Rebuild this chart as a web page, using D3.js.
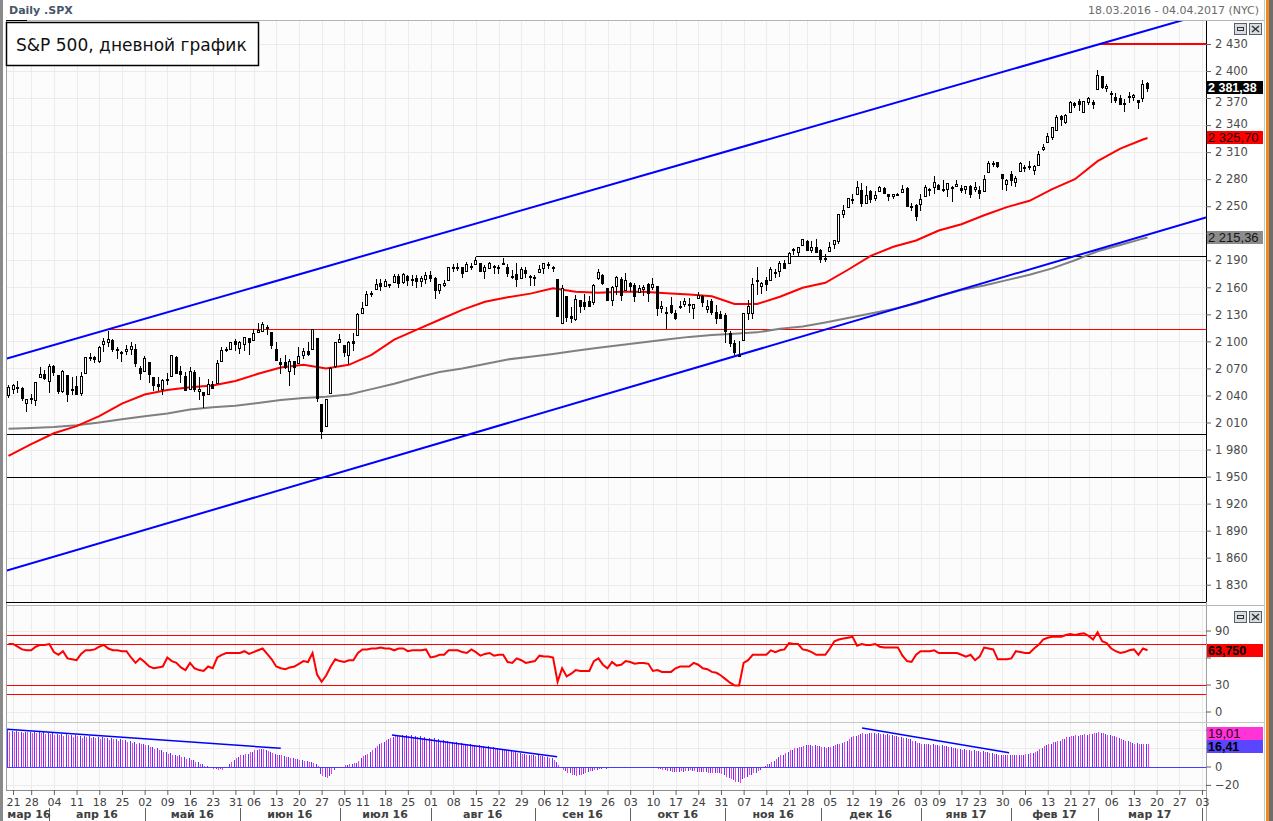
<!DOCTYPE html>
<html>
<head>
<meta charset="utf-8">
<script src="https://cdn.jsdelivr.net/npm/d3@7"></script>
<style>
body { margin: 0; background: #fff; }
svg { display: block; font-family: "DejaVu Sans", sans-serif; }
</style>
</head>
<body>
<svg id="chart" width="1273" height="821"></svg>
<script>
// trading days shown on the time axis (data ends 16.03.2017, axis runs to 04.04.2017)
var tradingDays = [
    ["2016-03", [18, 21, 22, 23, 24, 28, 29, 30, 31]],
    ["2016-04", [1, 4, 5, 6, 7, 8, 11, 12, 13, 14, 15, 18, 19, 20, 21, 22, 25, 26, 27, 28, 29]],
    ["2016-05", [2, 3, 4, 5, 6, 9, 10, 11, 12, 13, 16, 17, 18, 19, 20, 23, 24, 25, 26, 27, 31]],
    ["2016-06", [1, 2, 3, 6, 7, 8, 9, 10, 13, 14, 15, 16, 17, 20, 21, 22, 23, 24, 27, 28, 29, 30]],
    ["2016-07", [1, 5, 6, 7, 8, 11, 12, 13, 14, 15, 18, 19, 20, 21, 22, 25, 26, 27, 28, 29]],
    ["2016-08", [1, 2, 3, 4, 5, 8, 9, 10, 11, 12, 15, 16, 17, 18, 19, 22, 23, 24, 25, 26, 29, 30, 31]],
    ["2016-09", [1, 2, 6, 7, 8, 9, 12, 13, 14, 15, 16, 19, 20, 21, 22, 23, 26, 27, 28, 29, 30]],
    ["2016-10", [3, 4, 5, 6, 7, 10, 11, 12, 13, 14, 17, 18, 19, 20, 21, 24, 25, 26, 27, 28, 31]],
    ["2016-11", [1, 2, 3, 4, 7, 8, 9, 10, 11, 14, 15, 16, 17, 18, 21, 22, 23, 25, 28, 29, 30]],
    ["2016-12", [1, 2, 5, 6, 7, 8, 9, 12, 13, 14, 15, 16, 19, 20, 21, 22, 23, 26, 27, 28, 29, 30]],
    ["2017-01", [3, 4, 5, 6, 9, 10, 11, 12, 13, 17, 18, 19, 20, 23, 24, 25, 26, 27, 30, 31]],
    ["2017-02", [1, 2, 3, 6, 7, 8, 9, 10, 13, 14, 15, 16, 17, 21, 22, 23, 24, 27, 28]],
    ["2017-03", [1, 2, 3, 6, 7, 8, 9, 10, 13, 14, 15, 16, 17, 20, 21, 22, 23, 24, 27, 28, 29, 30, 31]],
    ["2017-04", [3, 4]]
];

var monthNames = ["янв", "фев", "мар", "апр", "май", "июн", "июл", "авг", "сен", "окт", "ноя", "дек"];

// daily candles [open, high, low, close]
var candles = [
    // mar 16
    [2041, 2052, 2037, 2049.6], [2047, 2053, 2042, 2051.6], [2048, 2056, 2043, 2049.8], [2048, 2049, 2034, 2036.7],
    [2032, 2036, 2022, 2035.9], [2037, 2042, 2031, 2037.1], [2035, 2055, 2028, 2055.0], [2060, 2072, 2059, 2064.0],
    [2064, 2068, 2057, 2059.7],
    // apr 16
    [2056, 2075, 2043, 2072.8], [2073, 2074, 2062, 2066.1], [2063, 2063, 2042, 2045.2], [2045, 2068, 2043, 2066.7],
    [2063, 2063, 2033, 2041.9], [2046, 2060, 2041, 2047.6], [2050, 2062, 2041, 2042.0], [2043, 2066, 2039, 2061.7],
    [2065, 2083, 2065, 2082.4], [2082, 2087, 2078, 2082.8], [2083, 2084, 2076, 2080.7], [2078, 2095, 2076, 2094.3],
    [2097, 2104, 2088, 2100.8], [2099, 2111, 2094, 2102.4], [2102, 2103, 2088, 2091.5], [2090, 2094, 2081, 2091.6],
    [2088, 2089, 2077, 2087.8], [2089, 2096, 2085, 2091.7], [2092, 2099, 2085, 2095.2], [2091, 2097, 2072, 2075.8],
    [2071, 2073, 2057, 2065.3],
    // may 16
    [2067, 2084, 2066, 2081.4], [2077, 2077, 2054, 2063.4], [2060, 2060, 2045, 2051.1], [2053, 2060, 2045, 2050.6],
    [2047, 2058, 2040, 2057.1], [2057, 2065, 2052, 2058.7], [2062, 2084, 2062, 2084.4], [2083, 2084, 2064, 2064.5],
    [2067, 2073, 2054, 2064.1], [2062, 2066, 2045, 2046.6], [2047, 2072, 2047, 2066.7], [2066, 2068, 2044, 2047.2],
    [2045, 2061, 2035, 2047.6], [2044, 2044, 2026, 2040.0], [2042, 2058, 2042, 2052.3], [2053, 2056, 2048, 2048.0],
    [2054, 2079, 2054, 2076.1], [2078, 2094, 2078, 2090.5], [2091, 2094, 2088, 2090.1], [2091, 2099, 2090, 2099.1],
    [2100, 2103, 2089, 2097.0],
    // jun 16
    [2093, 2100, 2086, 2099.3], [2097, 2105, 2089, 2105.3], [2104, 2104, 2085, 2099.1], [2101, 2114, 2100, 2109.4],
    [2110, 2120, 2110, 2112.1], [2112, 2121, 2111, 2119.1], [2115, 2118, 2107, 2115.5], [2110, 2110, 2092, 2096.1],
    [2091, 2099, 2078, 2079.1], [2077, 2082, 2064, 2075.3], [2077, 2085, 2069, 2071.5], [2067, 2080, 2051, 2078.0],
    [2078, 2078, 2063, 2071.2], [2076, 2094, 2076, 2083.3], [2085, 2093, 2080, 2088.9], [2089, 2099, 2084, 2085.5],
    [2092, 2113, 2091, 2113.3], [2104, 2104, 2033, 2037.4], [2031, 2031, 1992, 2000.5], [2006, 2036, 2006, 2036.1],
    [2043, 2072, 2043, 2070.8], [2073, 2099, 2071, 2098.9],
    // jul 16
    [2099, 2108, 2098, 2103.0], [2096, 2096, 2083, 2088.6], [2085, 2100, 2075, 2099.7], [2100, 2109, 2089, 2097.9],
    [2107, 2131, 2107, 2129.9], [2132, 2144, 2132, 2137.2], [2140, 2156, 2140, 2152.1], [2154, 2156, 2149, 2152.4],
    [2158, 2169, 2158, 2163.8], [2165, 2169, 2156, 2161.7], [2162, 2169, 2160, 2166.9], [2163, 2164, 2159, 2163.8],
    [2166, 2175, 2166, 2173.0], [2173, 2175, 2159, 2165.2], [2166, 2176, 2164, 2175.0], [2173, 2174, 2162, 2168.5],
    [2169, 2174, 2162, 2169.2], [2170, 2174, 2159, 2166.6], [2167, 2173, 2160, 2170.1], [2169, 2177, 2164, 2173.6],
    // aug 16
    [2174, 2178, 2166, 2170.8], [2170, 2171, 2147, 2157.0], [2157, 2164, 2153, 2163.8], [2163, 2168, 2160, 2164.3],
    [2168, 2183, 2168, 2182.9], [2183, 2186, 2177, 2180.9], [2182, 2187, 2178, 2181.7], [2182, 2183, 2170, 2175.5],
    [2178, 2188, 2178, 2185.8], [2184, 2187, 2179, 2184.1], [2186, 2194, 2186, 2190.2], [2187, 2187, 2178, 2178.2],
    [2178, 2185, 2169, 2182.2], [2181, 2188, 2181, 2187.0], [2184, 2185, 2175, 2183.9], [2181, 2185, 2175, 2182.6],
    [2187, 2193, 2185, 2186.9], [2183, 2186, 2171, 2175.4], [2173, 2179, 2169, 2172.5], [2175, 2187, 2160, 2169.0],
    [2170, 2183, 2170, 2180.4], [2179, 2183, 2170, 2176.1], [2173, 2174, 2162, 2171.0],
    // sep 16
    [2171, 2174, 2161, 2170.9], [2177, 2185, 2176, 2180.0], [2181, 2187, 2175, 2186.5], [2186, 2188, 2180, 2186.2],
    [2182, 2184, 2177, 2181.3], [2169, 2169, 2127, 2127.8], [2120, 2163, 2119, 2159.0], [2150, 2150, 2121, 2127.0],
    [2128, 2138, 2120, 2125.8], [2125, 2151, 2123, 2147.3], [2146, 2146, 2131, 2139.2], [2144, 2153, 2135, 2139.1],
    [2145, 2150, 2138, 2139.8], [2144, 2164, 2140, 2163.1], [2170, 2180, 2168, 2177.2], [2174, 2175, 2163, 2164.7],
    [2159, 2159, 2145, 2146.1], [2146, 2161, 2139, 2159.9], [2161, 2173, 2152, 2171.4], [2169, 2172, 2145, 2151.1],
    [2157, 2176, 2157, 2168.3],
    // oct 16
    [2165, 2166, 2155, 2161.2], [2163, 2165, 2144, 2150.5], [2155, 2163, 2155, 2159.7], [2158, 2163, 2150, 2160.8],
    [2164, 2165, 2144, 2153.7], [2160, 2170, 2157, 2163.7], [2161, 2162, 2128, 2136.7], [2137, 2145, 2132, 2139.2],
    [2131, 2138, 2114, 2132.6], [2140, 2149, 2130, 2133.0], [2132, 2135, 2124, 2126.5], [2138, 2145, 2136, 2139.6],
    [2141, 2148, 2138, 2144.3], [2142, 2148, 2132, 2141.3], [2137, 2142, 2125, 2141.2], [2148, 2155, 2147, 2151.3],
    [2150, 2152, 2138, 2143.2], [2136, 2146, 2132, 2139.4], [2145, 2147, 2129, 2133.0], [2133, 2140, 2119, 2126.4],
    [2130, 2134, 2125, 2126.2],
    // nov 16
    [2129, 2131, 2098, 2111.7], [2109, 2112, 2094, 2097.9], [2098, 2102, 2085, 2088.7], [2084, 2100, 2084, 2085.2],
    [2101, 2132, 2101, 2131.5], [2132, 2146, 2124, 2139.6], [2132, 2170, 2125, 2163.3], [2168, 2182, 2151, 2167.5],
    [2162, 2166, 2153, 2164.5], [2168, 2172, 2156, 2164.2], [2168, 2182, 2168, 2180.4], [2177, 2180, 2170, 2176.9],
    [2178, 2189, 2172, 2187.1], [2187, 2190, 2180, 2181.9], [2187, 2199, 2187, 2198.2], [2202, 2204, 2196, 2202.9],
    [2199, 2205, 2195, 2204.7], [2207, 2214, 2206, 2213.4], [2211, 2212, 2201, 2201.7], [2201, 2211, 2198, 2204.7],
    [2205, 2214, 2198, 2198.8],
    // dec 16
    [2201, 2202, 2187, 2191.1], [2191, 2197, 2188, 2192.0], [2200, 2210, 2200, 2204.7], [2208, 2213, 2202, 2212.2],
    [2211, 2241, 2208, 2241.4], [2241, 2251, 2237, 2246.2], [2249, 2259, 2249, 2259.5], [2258, 2264, 2253, 2257.0],
    [2263, 2278, 2263, 2271.7], [2268, 2276, 2249, 2253.3], [2254, 2272, 2254, 2262.0], [2267, 2268, 2254, 2258.1],
    [2259, 2267, 2256, 2262.5], [2267, 2272, 2266, 2270.8], [2270, 2271, 2265, 2265.2], [2263, 2264, 2256, 2261.0],
    [2261, 2264, 2258, 2263.8], [2264, 2265, 2263, 2264.0], [2266, 2273, 2266, 2268.9], [2270, 2271, 2249, 2249.9],
    [2250, 2254, 2245, 2249.3], [2251, 2253, 2234, 2238.8],
    // jan 17
    [2252, 2263, 2245, 2257.8], [2261, 2273, 2261, 2270.8], [2268, 2270, 2261, 2269.0], [2271, 2283, 2264, 2277.0],
    [2274, 2275, 2268, 2268.9], [2269, 2279, 2266, 2268.9], [2269, 2276, 2260, 2275.3], [2271, 2272, 2255, 2270.4],
    [2272, 2279, 2272, 2274.6], [2270, 2273, 2265, 2267.9], [2269, 2272, 2264, 2271.9], [2272, 2274, 2259, 2263.7],
    [2269, 2277, 2266, 2271.3], [2268, 2272, 2258, 2265.2], [2267, 2285, 2267, 2280.1], [2288, 2300, 2288, 2298.4],
    [2298, 2300, 2294, 2296.7], [2299, 2299, 2292, 2294.7], [2286, 2286, 2268, 2280.9], [2275, 2280, 2267, 2278.9],
    // feb 17
    [2286, 2289, 2272, 2279.6], [2277, 2283, 2271, 2280.9], [2289, 2299, 2288, 2297.4], [2294, 2296, 2288, 2292.6],
    [2295, 2300, 2290, 2293.1], [2290, 2296, 2285, 2294.7], [2296, 2311, 2296, 2307.9], [2313, 2319, 2311, 2316.1],
    [2321, 2331, 2321, 2328.3], [2327, 2338, 2324, 2337.6], [2335, 2351, 2334, 2349.3], [2350, 2351, 2339, 2347.2],
    [2343, 2352, 2341, 2351.2], [2355, 2367, 2355, 2365.4], [2364, 2366, 2359, 2362.8], [2367, 2369, 2356, 2363.8],
    [2355, 2367, 2353, 2367.3], [2366, 2371, 2362, 2369.8], [2366, 2368, 2358, 2363.6],
    // mar 17
    [2380, 2401, 2380, 2396.0], [2395, 2395, 2380, 2381.9], [2381, 2386, 2377, 2383.1], [2375, 2378, 2365, 2375.3],
    [2371, 2376, 2364, 2368.4], [2370, 2373, 2362, 2363.0], [2363, 2369, 2354, 2364.9], [2372, 2377, 2364, 2372.6],
    [2371, 2375, 2367, 2373.5], [2368, 2368, 2358, 2365.5], [2370, 2390, 2366, 2385.3], [2387, 2388, 2377, 2381.38]
];

// moving averages, [bar index, value]
var ma50 = [
    [0, 1973], [5, 1986], [10, 1998], [15, 2006], [20, 2017], [25, 2031], [30, 2041], [35, 2046], [40, 2049],
    [45, 2051], [50, 2056], [55, 2064], [60, 2071], [65, 2074], [70, 2070], [75, 2074], [80, 2085], [85, 2102],
    [90, 2113], [95, 2124], [100, 2135], [105, 2144], [110, 2149], [115, 2153], [120, 2159], [125, 2155],
    [130, 2154], [135, 2155], [140, 2155], [145, 2153.5], [150, 2152], [155, 2150], [160, 2141.5], [165, 2141.5],
    [170, 2149.6], [175, 2159.5], [180, 2165], [185, 2179.5], [190, 2195], [195, 2205], [200, 2212], [205, 2223],
    [210, 2230], [215, 2240], [220, 2249], [225, 2256], [230, 2269], [235, 2280], [240, 2300], [245, 2314],
    [250, 2324], [251, 2325.70]
];
var ma200 = [
    [0, 2003], [5, 2004], [10, 2005], [15, 2007], [20, 2010], [25, 2013.5], [30, 2017], [35, 2020], [40, 2024.5],
    [45, 2027], [50, 2028.5], [55, 2031.5], [60, 2035], [65, 2037.3], [70, 2038.5], [75, 2041], [80, 2047],
    [85, 2053], [90, 2060], [95, 2066], [100, 2070], [105, 2075], [110, 2080], [115, 2083], [120, 2086],
    [125, 2089.5], [130, 2093], [135, 2096], [140, 2099], [145, 2102], [150, 2105], [155, 2107], [160, 2108.5],
    [165, 2110], [170, 2114], [175, 2116.5], [180, 2121], [185, 2126], [190, 2131], [195, 2136], [200, 2142],
    [205, 2150], [210, 2157], [215, 2162], [220, 2168], [225, 2174], [230, 2181], [235, 2190], [240, 2200],
    [245, 2207], [250, 2214], [251, 2215.36]
];

// daily RSI values
var rsi = [
    75, 75, 72, 69, 68, 68, 72, 74, 74, 75, 66, 63, 67, 59, 58, 57, 64, 68, 68, 69,
    72, 74, 70, 68, 68, 67, 67, 60, 54, 59, 55, 50, 48, 49, 50, 60, 56, 54, 49, 46,
    54, 48, 46, 45, 50, 48, 60, 63, 65, 65, 65, 65, 67, 64, 66, 68, 70, 64, 58, 50,
    48, 47, 49, 50, 53, 56, 55, 65, 41, 33, 40, 50, 58, 56, 55, 57, 57, 65, 69, 69,
    70, 70, 71, 70, 70, 68, 70, 70, 67, 68, 68, 68, 69, 60, 61, 63, 63, 68, 68, 68,
    66, 65, 69, 66, 62, 64, 65, 62, 63, 63, 55, 54, 59, 57, 54, 55, 56, 62, 61, 61,
    60, 33, 48, 39, 42, 46, 45, 45, 45, 56, 59, 52, 48, 55, 51, 52, 56, 55, 53, 54,
    54, 53, 45, 46, 44, 44, 44, 48, 50, 50, 50, 54, 52, 48, 47, 44, 43, 40, 36, 32,
    29, 29, 54, 57, 63, 63, 63, 63, 68, 66, 68, 69, 76, 75, 75, 69, 68, 66, 63, 63,
    63, 70, 78, 80, 81, 82, 83, 73, 75, 74, 74, 75, 72, 71, 71, 71, 71, 62, 56, 55,
    63, 67, 67, 67, 68, 65, 65, 65, 65, 65, 63, 61, 63, 57, 61, 71, 70, 69, 58, 58,
    58, 59, 67, 66, 65, 65, 70, 74, 80, 82, 83, 83, 83, 85, 86, 85, 86, 87, 84, 80,
    88, 78, 76, 70, 67, 65, 66, 68, 69, 63, 70, 68
];
var rsiLevels = [85, 75, 30, 20];
var rsiTicks = [0, 30, 60, 90];

// MACD histogram, two series (blue / magenta)
var macdBlue = [
    40, 39, 39, 38, 38, 38, 37, 37, 37, 36, 36, 35, 35, 35, 34, 34, 33, 33, 33, 32,
    32, 32, 31, 31, 30, 30, 29, 28, 27, 26, 25, 23, 21, 20, 18, 16, 15, 13, 12, 10,
    9, 7, 5, 3, 1, -2, -3, -3, -1, 3, 7, 10, 12, 14, 16, 18, 19, 18, 16, 14,
    13, 11, 10, 9, 8, 7, 6, 5, 3, -8, -11, -10, -4, -2, 0, 2, 3, 4, 9, 12,
    16, 20, 24, 27, 30, 32, 33, 34, 34, 34, 33, 33, 32, 31, 31, 30, 29, 28, 27, 27,
    26, 25, 24, 23, 23, 22, 22, 21, 20, 19, 18, 17, 16, 15, 14, 13, 12, 12, 11, 10,
    9, 5, -2, -5, -7, -9, -9, -8, -6, -5, -4, -3, -3, -2, -2, -2, -1, -1, -1, -1,
    -1, -1, -1, -2, -3, -4, -5, -6, -6, -6, -5, -5, -6, -6, -6, -7, -7, -7, -9, -12,
    -15, -17, -14, -11, -9, -7, -4, 1, 3, 6, 10, 13, 16, 18, 20, 21, 23, 23, 23, 22,
    21, 21, 22, 24, 26, 28, 32, 33, 35, 35, 36, 36, 36, 35, 35, 34, 33, 32, 31, 30,
    28, 26, 25, 24, 24, 23, 23, 22, 21, 20, 19, 19, 18, 18, 17, 17, 16, 15, 14, 13,
    13, 13, 13, 13, 13, 14, 15, 17, 20, 23, 25, 27, 28, 30, 32, 33, 33, 34, 34, 35,
    36, 36, 35, 34, 33, 31, 29, 28, 26, 26, 25, 25
];
var macdPink = [
    38, 37, 38, 36, 37, 36, 36, 36, 35, 35, 34, 34, 33, 34, 32, 33, 31, 32, 31, 31,
    30, 31, 29, 30, 28, 29, 27, 26, 25, 24, 23, 21, 19, 18, 16, 14, 13, 11, 10, 8,
    7, 5, 3, 1, -1, -3, -4, -4, 0, 5, 9, 12, 14, 16, 18, 19, 19, 17, 15, 13,
    12, 10, 9, 8, 7, 6, 5, 4, 1, -10, -12, -8, -2, 0, 2, 3, 4, 6, 11, 14,
    18, 22, 26, 29, 31, 33, 33, 33, 33, 32, 32, 31, 30, 30, 29, 28, 28, 27, 26, 25,
    25, 24, 23, 22, 21, 21, 20, 20, 19, 18, 17, 16, 15, 14, 13, 12, 11, 11, 10, 9,
    7, 2, -4, -7, -9, -10, -9, -7, -5, -4, -3, -2, -2, -1, -1, -1, -1, 0, 0, -1,
    -1, 0, -2, -3, -4, -5, -6, -6, -5, -5, -4, -5, -6, -6, -7, -7, -7, -8, -11, -14,
    -17, -18, -12, -9, -7, -5, -2, 3, 5, 8, 12, 15, 18, 20, 21, 22, 23, 22, 22, 21,
    20, 21, 23, 25, 27, 30, 33, 34, 36, 35, 36, 35, 35, 34, 34, 33, 32, 31, 30, 28,
    26, 25, 24, 23, 23, 22, 22, 21, 20, 19, 18, 18, 17, 17, 16, 16, 15, 14, 13, 12,
    12, 12, 13, 13, 14, 15, 16, 19, 22, 25, 27, 28, 30, 32, 33, 34, 34, 35, 35, 36,
    37, 36, 34, 33, 32, 30, 28, 27, 25, 25, 24, 24
];
var macdTicks = [-20, 0, 20, 40];
var macdLabels = [19.01, 16.41];
var rsiLabel = 63.75;

// hand-drawn lines: [bar index, value]
var channelLines = [
    [[0, 2081.6], [240.5, 2430]],
    [[0, 1846.3], [263.9, 2237.5]]
];
var levelLines = [
    { price: 2194.8, from: 103, color: "#000000", width: 1 },
    { price: 2113.8, from: 22, color: "#ff0000", width: 1 },
    { price: 1997.2, from: null, color: "#000000", width: 1 },
    { price: 1949.5, from: null, color: "#000000", width: 1 },
    { price: 2430, from: 240.5, color: "#ff0000", width: 2 }
];
var macdTrends = [
    [[-0.3, 40.4], [60, 19.8]],
    [[84.5, 34.2], [120.9, 10.7]],
    [[188.1, 41.8], [220.5, 15]]
];
var priceTicks = d3.range(1830, 2431, 30);

// ---------------------------------------------------------------
var slots = [];
tradingDays.forEach(function (m) {
    var ym = m[0].split("-").map(Number);
    m[1].forEach(function (d) {
        slots.push({ y: ym[0], m: ym[1], d: d, date: new Date(ym[0], ym[1] - 1, d) });
    });
});

var weekIdx = [], monthIdx = [0];
slots.forEach(function (s, i) {
    if (i === 0) return;
    var gap = (s.date - slots[i - 1].date) / 86400000;
    if (gap >= 3) weekIdx.push(i);
    if (s.m !== slots[i - 1].m) monthIdx.push(i);
});

var ru = d3.formatLocale({ decimal: ",", thousands: "\u00a0", grouping: [3], currency: ["", ""] });
var fInt = ru.format(",d"), f2 = ru.format(",.2f"), f3 = ru.format(",.3f");

var svg = d3.select("#chart");
var plotL = 6, plotR = 1206;
var mainTop = 20.5, mainBot = 602, rsiTop = 605, rsiBot = 722, macdTop = 723, macdBot = 790;

var x = d3.scaleLinear().domain([0, slots.length - 1]).range([8.5, 1206.5]);
var yMain = d3.scaleLinear().domain([1830, 2430]).range([584.7, 44]);
var yRsi = d3.scaleLinear().domain([0, 90]).range([711.5, 630.5]);
var yMacd = d3.scaleLinear().domain([-20, 0]).range([784.9, 766.5]);

// frame
svg.append("rect").attr("x", 0).attr("y", 0).attr("width", 1273).attr("height", 821).attr("fill", "#ffffff");
svg.append("rect").attr("x", 0).attr("y", 0).attr("width", 3).attr("height", 821).attr("fill", "#8a8a8a");
svg.append("rect").attr("x", 1264).attr("y", 0).attr("width", 1).attr("height", 821).attr("fill", "#c8c8c8");
svg.append("rect").attr("x", 1266).attr("y", 0).attr("width", 3).attr("height", 821).attr("fill", "#f08a1c");
svg.append("rect").attr("x", 1269).attr("y", 0).attr("width", 4).attr("height", 821).attr("fill", "#6e6e6e");

var panels = [[mainTop, mainBot], [rsiTop, rsiBot], [macdTop, macdBot]];
var defs = svg.append("defs");
panels.forEach(function (p, k) {
    svg.append("rect").attr("x", plotL).attr("y", p[0]).attr("width", plotR - plotL).attr("height", p[1] - p[0])
        .attr("fill", "#fcfcfc");
    defs.append("clipPath").attr("id", "clip" + k).append("rect")
        .attr("x", plotL).attr("y", p[0]).attr("width", plotR - plotL).attr("height", p[1] - p[0]);
});

// gridlines
var grid = svg.append("g").attr("stroke", "#ececec").attr("shape-rendering", "crispEdges");
panels.forEach(function (p) {
    grid.selectAll(null).data(weekIdx).enter().append("line")
        .attr("x1", function (i) { return Math.round(x(i)) + 0.5; })
        .attr("x2", function (i) { return Math.round(x(i)) + 0.5; })
        .attr("y1", p[0]).attr("y2", p[1]);
});
grid.selectAll(null).data(priceTicks).enter().append("line")
    .attr("x1", plotL).attr("x2", plotR)
    .attr("y1", function (v) { return Math.round(yMain(v)) + 0.5; })
    .attr("y2", function (v) { return Math.round(yMain(v)) + 0.5; });
grid.selectAll(null).data(rsiTicks).enter().append("line")
    .attr("x1", plotL).attr("x2", plotR)
    .attr("y1", function (v) { return Math.round(yRsi(v)) + 0.5; })
    .attr("y2", function (v) { return Math.round(yRsi(v)) + 0.5; });
grid.selectAll(null).data(macdTicks).enter().append("line")
    .attr("x1", plotL).attr("x2", plotR)
    .attr("y1", function (v) { return Math.round(yMacd(v)) + 0.5; })
    .attr("y2", function (v) { return Math.round(yMacd(v)) + 0.5; });

// ---- main panel
var main = svg.append("g").attr("clip-path", "url(#clip0)");

main.selectAll(".level").data(levelLines).enter().append("line")
    .attr("x1", function (d) { return d.from === null ? plotL : x(d.from); })
    .attr("x2", plotR)
    .attr("y1", function (d) { return Math.round(yMain(d.price)) + (d.width === 1 ? 0.5 : 0); })
    .attr("y2", function (d) { return Math.round(yMain(d.price)) + (d.width === 1 ? 0.5 : 0); })
    .attr("stroke", function (d) { return d.color; })
    .attr("stroke-width", function (d) { return d.width; })
    .attr("shape-rendering", "crispEdges");

var maLine = d3.line().x(function (d) { return x(d[0]); }).y(function (d) { return yMain(d[1]); });
main.append("path").attr("d", maLine(ma200)).attr("fill", "none").attr("stroke", "#808080").attr("stroke-width", 2);
main.append("path").attr("d", maLine(ma50)).attr("fill", "none").attr("stroke", "#ff0000").attr("stroke-width", 2);

channelLines.forEach(function (l) {
    var x1 = x(l[0][0]), y1 = yMain(l[0][1]), x2 = x(l[1][0]), y2 = yMain(l[1][1]);
    var k = (y2 - y1) / (x2 - x1);
    main.append("line")
        .attr("x1", plotL).attr("y1", y1 + (plotL - x1) * k)
        .attr("x2", plotR).attr("y2", y1 + (plotR - x1) * k)
        .attr("stroke", "#0000ff").attr("stroke-width", 2);
});

var candle = main.selectAll(".candle").data(candles).enter().append("g")
    .attr("shape-rendering", "crispEdges");
candle.append("line")
    .attr("x1", function (d, i) { return Math.floor(x(i)) + 0.5; })
    .attr("x2", function (d, i) { return Math.floor(x(i)) + 0.5; })
    .attr("y1", function (d) { return Math.round(yMain(d[1])); })
    .attr("y2", function (d) { return Math.round(yMain(d[2])); })
    .attr("stroke", "#000");
candle.append("rect")
    .attr("x", function (d, i) { return Math.floor(x(i)) - 0.5; })
    .attr("width", 2)
    .attr("y", function (d) { return Math.round(yMain(Math.max(d[0], d[3]))) + 0.5; })
    .attr("height", function (d) {
        return Math.max(1, Math.round(yMain(Math.min(d[0], d[3]))) - Math.round(yMain(Math.max(d[0], d[3]))));
    })
    .attr("fill", function (d) { return d[3] >= d[0] ? "#ffffff" : "#000000"; })
    .attr("stroke", "#000");

// ---- RSI panel
var rsiG = svg.append("g").attr("clip-path", "url(#clip1)");
rsiG.selectAll(null).data(rsiLevels).enter().append("line")
    .attr("x1", plotL).attr("x2", plotR)
    .attr("y1", function (v) { return Math.round(yRsi(v)) + 0.5; })
    .attr("y2", function (v) { return Math.round(yRsi(v)) + 0.5; })
    .attr("stroke", "#ff0000").attr("shape-rendering", "crispEdges");
rsiG.append("path")
    .attr("d", d3.line().x(function (d, i) { return x(i); }).y(function (d) { return yRsi(d); })(rsi))
    .attr("fill", "none").attr("stroke", "#ff0000").attr("stroke-width", 2);

// ---- MACD panel
var macdG = svg.append("g").attr("clip-path", "url(#clip2)").attr("shape-rendering", "crispEdges");
macdG.selectAll(".mb").data(macdBlue).enter().append("line")
    .attr("x1", function (d, i) { return Math.floor(x(i)) - 0.5; })
    .attr("x2", function (d, i) { return Math.floor(x(i)) - 0.5; })
    .attr("y1", yMacd(0)).attr("y2", function (d) { return yMacd(d); })
    .attr("stroke", "#4a3cff");
macdG.selectAll(".mp").data(macdPink).enter().append("line")
    .attr("x1", function (d, i) { return Math.floor(x(i)) + 1.5; })
    .attr("x2", function (d, i) { return Math.floor(x(i)) + 1.5; })
    .attr("y1", yMacd(0)).attr("y2", function (d) { return yMacd(d); })
    .attr("stroke", "#ff33d6");
macdG.append("line").attr("x1", plotL).attr("x2", plotR)
    .attr("y1", Math.round(yMacd(0)) + 0.5).attr("y2", Math.round(yMacd(0)) + 0.5)
    .attr("stroke", "#4a3cff");
macdTrends.forEach(function (l) {
    macdG.append("line")
        .attr("x1", x(l[0][0])).attr("y1", yMacd(l[0][1]))
        .attr("x2", x(l[1][0])).attr("y2", yMacd(l[1][1]))
        .attr("stroke", "#0000ff").attr("stroke-width", 1.5).attr("shape-rendering", "auto");
});

// ---- borders
var border = svg.append("g").attr("fill", "none").attr("shape-rendering", "crispEdges");
border.append("line").attr("x1", plotL + 0.5).attr("x2", plotL + 0.5).attr("y1", mainTop).attr("y2", macdBot).attr("stroke", "#a0a0a0");
border.append("line").attr("x1", plotR + 0.5).attr("x2", plotR + 0.5).attr("y1", mainTop).attr("y2", mainBot).attr("stroke", "#000");
border.append("line").attr("x1", plotR + 0.5).attr("x2", plotR + 0.5).attr("y1", mainBot).attr("y2", 821).attr("stroke", "#a0a0a0");
border.append("line").attr("x1", plotL).attr("x2", 1264).attr("y1", mainTop).attr("y2", mainTop).attr("stroke", "#b4b4b4");
border.append("line").attr("x1", plotL).attr("x2", 27).attr("y1", mainTop).attr("y2", mainTop).attr("stroke", "#000");
border.append("line").attr("x1", plotL).attr("x2", plotR).attr("y1", mainBot + 0.5).attr("y2", mainBot + 0.5).attr("stroke", "#000");
border.append("line").attr("x1", plotL).attr("x2", 1264).attr("y1", rsiTop + 0.5).attr("y2", rsiTop + 0.5).attr("stroke", "#b4b4b4");
border.append("line").attr("x1", plotL).attr("x2", 1264).attr("y1", rsiBot + 0.5).attr("y2", rsiBot + 0.5).attr("stroke", "#c8c8c8");
border.append("line").attr("x1", plotL).attr("x2", plotR).attr("y1", macdBot + 0.5).attr("y2", macdBot + 0.5).attr("stroke", "#8c8c8c");

// ---- value boxes on the right axis
var lastIdx = candles.length - 1;
var boxes = [
    { y: yMain(candles[lastIdx][3]), text: f2(candles[lastIdx][3]), bg: "#000000", fg: "#ffffff", bold: true },
    { y: yMain(ma50[ma50.length - 1][1]), text: f2(ma50[ma50.length - 1][1]), bg: "#ff0000", fg: "#1a0000" },
    { y: yMain(ma200[ma200.length - 1][1]), text: f2(ma200[ma200.length - 1][1]), bg: "#8c8c8c", fg: "#141414" },
    { y: yRsi(rsi[rsi.length - 1]), text: f3(rsiLabel), bg: "#ff0000", fg: "#000000", bold: true },
    { y: 733.5, text: f2(macdLabels[0]), bg: "#ff33d6", fg: "#2a0024" },
    { y: 746.5, text: f2(macdLabels[1]), bg: "#5a46ff", fg: "#000000", bold: true }
];
function nearestBox(y) {
    var best = null;
    boxes.forEach(function (b) {
        if (best === null || Math.abs(b.y - y) < Math.abs(best)) best = y - b.y;
    });
    return best;
}

// ---- right axes
function rightAxis(scale, ticks, fmt) {
    var g = svg.append("g").attr("transform", "translate(" + plotR + ",0)")
        .call(d3.axisRight(scale).tickValues(ticks).tickSize(5).tickPadding(4).tickFormat(fmt));
    g.select(".domain").remove();
    g.selectAll(".tick line").attr("stroke", "#606060");
    var t = g.selectAll(".tick text").attr("fill", "#4a4a4a").style("font-size", "11.5px")
        .style("font-family", "'DejaVu Sans', sans-serif");
    t.filter(function (v) { return Math.abs(nearestBox(scale(v))) < 8; }).remove();
    t.each(function (v) {
        var d = nearestBox(scale(v));
        if (Math.abs(d) >= 8 && Math.abs(d) < 14) {
            d3.select(this).attr("transform", "translate(0," + (Math.sign(d) * (14 - Math.abs(d))).toFixed(1) + ")");
        }
    });
    return g;
}
rightAxis(yMain, priceTicks, fInt);
rightAxis(yRsi, rsiTicks, d3.format("d"));
rightAxis(yMacd, macdTicks, d3.format("d"));

boxes.forEach(function (b) {
    var top = Math.round(b.y - 6.5);
    svg.append("rect").attr("x", plotR + 1).attr("y", top).attr("width", 56).attr("height", 13).attr("fill", b.bg);
    svg.append("text").attr("x", plotR + 2).attr("y", top + 11).text(b.text)
        .attr("fill", b.fg)
        .style("font-family", "'Liberation Sans', Arial, sans-serif")
        .style("font-size", b.bold ? "12.5px" : "13px")
        .style("font-weight", b.bold ? "bold" : "normal");
});

// panel buttons
function buttons(y) {
    var g = svg.append("g").attr("shape-rendering", "crispEdges");
    [1234, 1249].forEach(function (bx, k) {
        g.append("rect").attr("x", bx + 0.5).attr("y", y + 0.5).attr("width", 12).attr("height", 11)
            .attr("fill", "#d8dde2").attr("stroke", "#55606a");
        if (k === 0) {
            g.append("rect").attr("x", bx + 3.5).attr("y", y + 4.5).attr("width", 6).attr("height", 3)
                .attr("fill", "none").attr("stroke", "#333");
        } else {
            g.append("path").attr("d", "M" + (bx + 3) + "," + (y + 3) + "L" + (bx + 10) + "," + (y + 9) +
                "M" + (bx + 10) + "," + (y + 3) + "L" + (bx + 3) + "," + (y + 9))
                .attr("stroke", "#333").attr("stroke-width", 1.5).attr("shape-rendering", "auto");
        }
    });
}
buttons(23);
buttons(611);

// ---- bottom time axis
var xa = svg.append("g").attr("transform", "translate(0," + macdBot + ")")
    .call(d3.axisBottom(x).tickValues(weekIdx).tickSize(5).tickPadding(3)
        .tickFormat(function (i) { return d3.format("02d")(slots[i].d); }));
xa.select(".domain").remove();
xa.selectAll(".tick line").attr("stroke", "#606060");
xa.selectAll(".tick text").attr("fill", "#404040").style("font-size", "11px")
    .style("font-family", "'DejaVu Sans', sans-serif");

var months = svg.append("g");
months.selectAll("line").data(monthIdx.slice(1)).enter().append("line")
    .attr("x1", function (i) { return Math.round(x(i)) + 0.5; })
    .attr("x2", function (i) { return Math.round(x(i)) + 0.5; })
    .attr("y1", 808).attr("y2", 821).attr("stroke", "#606060").attr("shape-rendering", "crispEdges");
monthIdx.forEach(function (i, k) {
    var x0 = k === 0 ? x(0) : x(i);
    var x1 = k + 1 < monthIdx.length ? x(monthIdx[k + 1]) : plotR;
    if (x1 - x0 < 40) return;
    var s = slots[i];
    months.append("text").attr("x", (x0 + x1) / 2).attr("y", 818).attr("text-anchor", "middle")
        .attr("fill", "#404040").style("font-size", "11px").style("font-weight", "bold")
        .text(monthNames[s.m - 1] + " " + String(s.y).slice(2));
});

// ---- header and title
svg.append("text").attr("x", 9).attr("y", 14).text("Daily .SPX")
    .attr("fill", "#46566a").style("font-size", "11px").style("font-weight", "bold");
svg.append("text").attr("x", 1259).attr("y", 14).attr("text-anchor", "end")
    .text("18.03.2016 - 04.04.2017 (NYC)")
    .attr("fill", "#6a6a6a").style("font-size", "11px");

svg.append("rect").attr("x", 6.5).attr("y", 22.5).attr("width", 252).attr("height", 43)
    .attr("fill", "#ffffff").attr("stroke", "#000").attr("stroke-width", 1.5);
var title = svg.append("text").attr("x", 16).attr("y", 51).text("S&P 500, дневной график")
    .attr("fill", "#111").style("font-size", "20px");
var tw = title.node().getComputedTextLength();
title.style("font-size", (20 * 231 / tw).toFixed(2) + "px");
</script>
</body>
</html>
